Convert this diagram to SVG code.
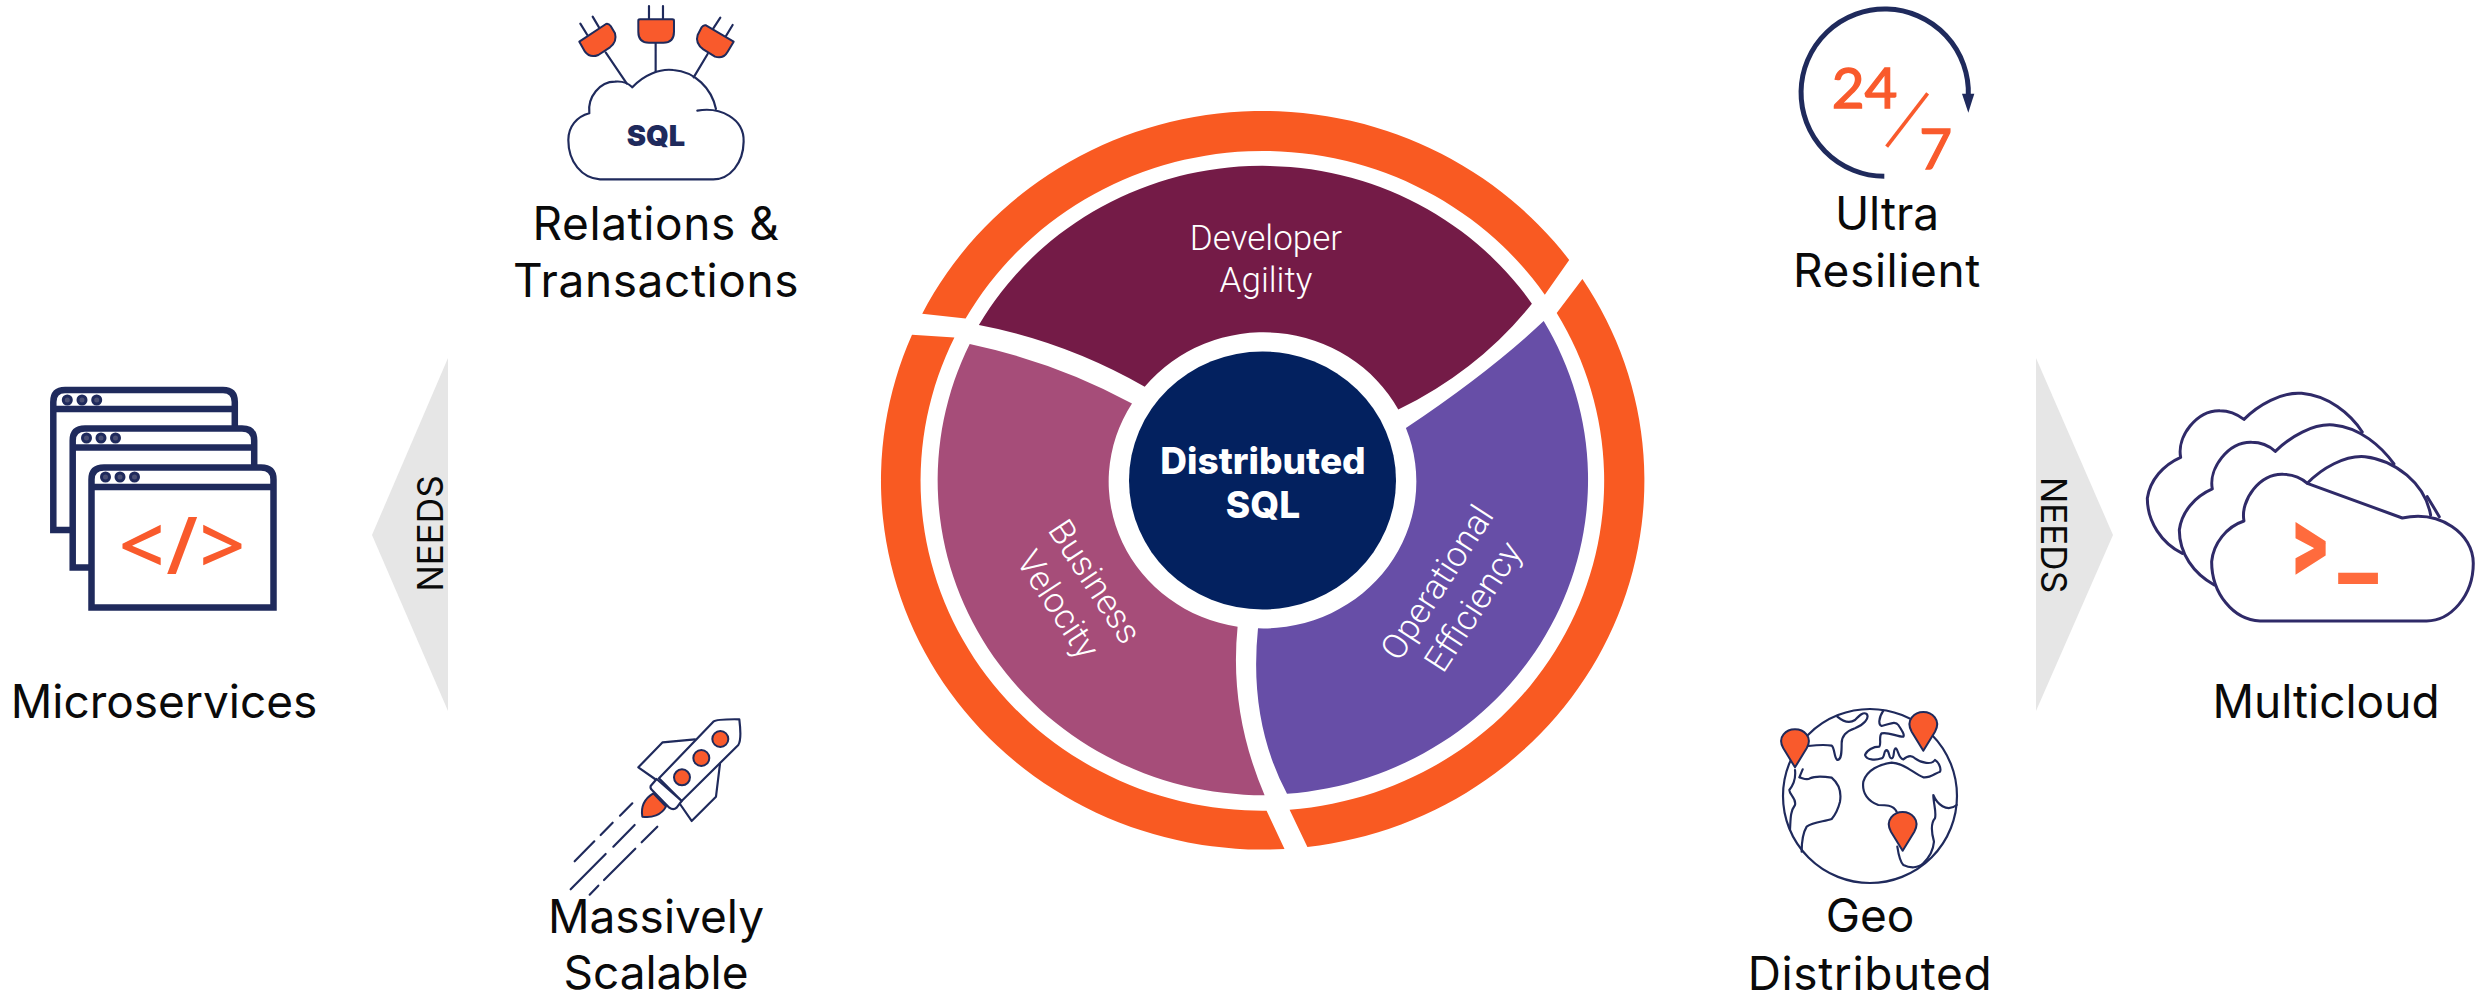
<svg xmlns="http://www.w3.org/2000/svg" width="2484" height="997" viewBox="0 0 2484 997">
<style>
.lbl{font-family:"Inter","Roboto","Liberation Sans",sans-serif;font-size:46px;fill:#0a0a0a;text-anchor:middle}
.wide{letter-spacing:.6px}
.seg{font-family:"Roboto","Liberation Sans",sans-serif;font-weight:300;font-size:35px;fill:#fff;text-anchor:middle}
.hub{font-family:"Inter","Roboto","Liberation Sans",sans-serif;font-weight:800;font-size:37px;fill:#fff;text-anchor:middle}
.ink{fill:none;stroke:#1f2a5c;stroke-width:6.5;stroke-linecap:round;stroke-linejoin:round}
.org{fill:#f95a2c;stroke:#1f2a5c;stroke-width:6;stroke-linejoin:round}
.win{fill:#fff;stroke:#1f2a5c;stroke-width:6.5}
.dot{fill:#4a4f73;stroke:#1f2a5c;stroke-width:3}
.cl{fill:none;stroke:#2f2a68;stroke-width:9;stroke-linecap:round;stroke-linejoin:round}
.need{font-family:"Inter","Roboto","Liberation Sans",sans-serif;font-weight:400;font-size:35px;fill:#0a0a0a;text-anchor:middle}
</style>
<rect width="2484" height="997" fill="#fff"/>
<g id="connectors">
<g id="arrow-left"><polygon points="448,358 372,535 448,711" fill="#e6e6e6"/><text class="need" transform="translate(443,533.5) rotate(-90)">NEEDS</text></g>
<g id="arrow-right"><polygon points="2036,358 2113,535 2036,711" fill="#e6e6e6"/><text class="need" transform="translate(2041,535) rotate(90)">NEEDS</text></g>
</g>
<g id="ring">
<path fill="#f95a22" d="M922.2,313.7A381.5,369 0 0 1 1569.2,260L1544.8,294.7A341.5,330 0 0 0 965.6,318.6Z"/>
<path fill="#f95a22" d="M1582.4,278.9A381.5,369 0 0 1 1307.4,847L1289.6,809.7A341.5,330 0 0 0 1556.7,312.9Z"/>
<path fill="#f95a22" d="M1284.5,848.9A381.5,369 0 0 1 912,334.75L954.4,337.5A341.5,330 0 0 0 1266.6,810.7Z"/>
</g>
<g id="developer-agility">
<path fill="#741b47" d="M978.9,325.1A326,315 0 0 1 1531.9,303.7Q1479,370 1398.3,409.6A153,147 0 0 0 1144.7,386.7Q1065,341.3 978.9,325.1Z"/>
<text class="seg" x="1266" y="250">Developer</text><text class="seg" x="1266" y="292">Agility</text>
</g>
<g id="operational-efficiency">
<path fill="#674ea7" d="M1543.7,321.1A326,315 0 0 1 1287,793.8Q1248.5,721.2 1258,628.3A153,147 0 0 0 1405.9,428Q1489,372.5 1543.7,321.1Z"/>
<text class="seg" transform="translate(1447,589) rotate(-57)">Operational</text><text class="seg" transform="translate(1483,613) rotate(-57)">Efficiency</text>
</g>
<g id="business-velocity">
<path fill="#a64d79" d="M969.7,344A326,315 0 0 0 1264.6,795.2Q1229,712 1237.6,626.8A153,147 0 0 1 1132,403.6Q1057,362.7 969.7,344Z"/>
<text class="seg" transform="translate(1085,588) rotate(57)">Business</text><text class="seg" transform="translate(1048,611) rotate(57)">Velocity</text>
</g>
<g id="distributed-sql">
<ellipse cx="1262.5" cy="480.5" rx="133.5" ry="129" fill="#03215f"/>
<text class="hub" x="1263" y="474">Distributed</text>
<text class="hub" x="1263" y="518">SQL</text>
</g>
<g id="relations-transactions">
<g transform="translate(500,0) scale(.3333)">
<path class="ink" d="M397,262C430,225 480,205 520,210C585,215 635,265 648,327M592,332C660,320 733,355 731,425C730,490 690,538 640,538L300,538C245,535 205,485 205,420C205,380 230,350 268,340C262,290 300,245 345,245C365,243 385,250 397,262"/>
<path class="ink" d="M447,58V18M489,58V18M467,128V215M262,105L241,71M297,82L278,50M317,157L380,250M640,85L661,53M678,108L698,75M623,162L581,232"/>
<path class="org" d="M415,62Q415,58 420,58H517Q522,58 522,62V95Q522,128 490,128H447Q415,128 415,95Z"/>
<path class="org" d="M238,125L318,72Q326,70 332,78L345,100Q352,125 330,142L295,165Q270,175 255,155Z"/>
<path class="org" d="M701,125L618,76Q610,74 605,82L593,105Q585,130 610,148L645,170Q670,178 683,155Z"/>
</g>
<text x="656" y="146" text-anchor="middle" font-family="Inter,Roboto,'Liberation Sans',sans-serif" font-weight="900" font-size="29" fill="#1f2a5c">SQL</text>
<text class="lbl wide" x="656" y="240">Relations &amp;</text><text class="lbl wide" x="656" y="297">Transactions</text>
</g>
<g id="massively-scalable">
<g transform="translate(540,690) scale(.3333)">
<path class="ink" d="M465,148L368,157L295,232L345,267M540,222L528,320L455,393L420,342"/>
<path class="ink" d="M520,95Q530,87 598,88C602,120 605,150 595,165L425,333L357,265Z"/>
<path class="org" d="M340,310L378,350C365,375 335,385 307,380C302,350 315,325 340,310Z"/>
<path class="ink" style="fill:#fff" d="M350,267L332,288Q330,295 336,300L388,353Q400,362 410,353L425,333Z"/>
<circle class="org" cx="541" cy="147" r="24"/><circle class="org" cx="484" cy="204" r="24"/><circle class="org" cx="426" cy="262" r="24"/>
<path class="ink" d="M277,340L240,377M218,398L182,435M163,454L104,514M284,405L220,470M197,492L92,598M352,410L305,457M286,476L192,570M175,587L149,614"/>
</g>
<text class="lbl" x="656" y="933">Massively</text><text class="lbl" x="656" y="989">Scalable</text>
</g>
<g id="geo-distributed">
<g transform="translate(1760,690) scale(.3333)">
<circle class="ink" cx="330" cy="318" r="261"/>
<path class="ink" d="M232,80C250,95 270,100 285,90C300,75 310,65 320,72C330,85 310,105 285,115C255,125 245,140 245,160C245,185 245,210 232,210C222,205 225,175 215,167C195,163 170,165 145,168M128,238L118,262C130,265 140,272 150,265C165,258 195,260 215,263C235,280 245,305 240,335C235,355 225,375 215,387C195,395 160,395 140,410C128,430 125,460 125,485M105,240C108,265 100,285 88,300C88,315 110,325 105,345C90,365 92,390 90,420M370,62C355,85 355,105 365,108C385,105 405,90 415,105C425,120 435,135 430,140C410,140 385,125 365,130C355,140 365,160 358,170C340,170 320,180 315,195C320,210 345,212 365,205C375,205 370,180 380,180C390,185 385,205 395,205C405,205 398,175 408,175C415,180 415,205 430,208C445,195 455,195 465,205C485,220 515,225 525,210C535,215 545,235 540,245C525,250 510,265 490,262C460,250 435,220 395,218C360,222 320,240 310,275C305,310 325,335 355,345C375,345 400,345 410,365M412,470C415,490 420,515 430,525C450,535 475,535 490,520C510,500 520,480 522,455C515,430 512,400 525,385C530,365 520,340 520,315C530,340 560,370 590,345"/>
<path class="org" d="M105,232L70,175C50,140 80,118 105,118C130,118 160,140 140,175Z"/>
<path class="org" d="M490,182L455,125C435,90 465,66 490,66C515,66 545,90 525,125Z"/>
<path class="org" d="M428,482L393,425C373,390 403,366 428,366C453,366 483,390 463,425Z"/>
</g>
<text class="lbl" x="1870" y="932">Geo</text><text class="lbl wide" x="1870" y="990">Distributed</text>
</g>
<g id="ultra-resilient">
<g transform="translate(1781,1) scale(.3333)">
<path fill="none" stroke="#1f2a5c" stroke-width="15" d="M310,526A251,251 0 1 1 562,285"/>
<polygon points="543,278 580,278 562,335" fill="#1f2a5c"/>
<line x1="440" y1="277" x2="317" y2="437" stroke="#f95a2c" stroke-width="11"/>
<text x="152" y="320" font-family="Lato,'Open Sans',sans-serif" font-size="170" fill="#f95a2c" stroke="#f95a2c" stroke-width="4">24</text>
<text x="415" y="505" font-family="Lato,'Open Sans',sans-serif" font-size="170" fill="#f95a2c" stroke="#f95a2c" stroke-width="4">7</text>
</g>
<text class="lbl" x="1887" y="230">Ultra</text><text class="lbl wide" x="1887" y="287">Resilient</text>
</g>
<g id="microservices">
<path class="win" d="M53.3,530V402Q53.3,390 65,390H223Q234.8,390 234.8,402V530Z"/><line x1="53" y1="409" x2="235" y2="409" stroke="#1f2a5c" stroke-width="6.5"/>
<circle class="dot" cx="67.3" cy="400" r="4"/><circle class="dot" cx="82" cy="400" r="4"/><circle class="dot" cx="96.7" cy="400" r="4"/>
<path class="win" d="M72.7,567.5V440.5Q72.7,428.5 85,428.5H242Q254.2,428.5 254.2,440.5V567.5Z"/><line x1="73" y1="447.5" x2="254" y2="447.5" stroke="#1f2a5c" stroke-width="6.5"/>
<circle class="dot" cx="86.5" cy="438" r="4"/><circle class="dot" cx="101" cy="438" r="4"/><circle class="dot" cx="115.5" cy="438" r="4"/>
<path class="win" d="M91.5,607.5V479.5Q91.5,467.5 104,467.5H261Q273.5,467.5 273.5,479.5V607.5Z"/><line x1="91" y1="487" x2="274" y2="487" stroke="#1f2a5c" stroke-width="6.5"/>
<circle class="dot" cx="105.5" cy="477" r="4"/><circle class="dot" cx="120" cy="477" r="4"/><circle class="dot" cx="134.5" cy="477" r="4"/>
<text x="183" y="574" text-anchor="middle" font-family="'Open Sans',Roboto,sans-serif" font-weight="600" font-size="80" fill="#f95a2c" letter-spacing="2">&lt;/&gt;</text>
<text class="lbl" x="164" y="718">Microservices</text>
</g>
<g id="multicloud">
<g transform="translate(2020,340) scale(.3333)">
<path class="cl" d="M487,640C425,610 382,545 382,475C390,420 430,375 482,352C470,290 530,210 600,212C630,212 655,225 672,238C715,195 785,155 845,160C925,167 990,220 1027,276"/>
<path class="cl" d="M583,735C520,700 478,640 478,570C485,515 525,470 577,447C565,385 625,305 695,307C725,307 750,320 766,334C810,290 880,250 940,255C1020,262 1085,320 1122,372M1222,470L1258,530"/>
<path class="cl" d="M862,430C905,385 975,345 1035,350C1125,360 1215,430 1232,525M1147,534C1260,510 1360,580 1360,670C1360,770 1290,843 1220,843L720,843C640,840 575,760 575,665C580,610 620,560 672,543C660,480 720,400 790,403C820,403 845,415 862,430Z"/>
<text transform="translate(815,722) scale(1,1.55)" font-family="Roboto,sans-serif" font-weight="900" font-size="210" fill="#ff6b3d">&gt;</text>
<text x="955" y="700" font-family="Roboto,sans-serif" font-weight="900" font-size="270" fill="#ff6b3d">_</text>
</g>
<text class="lbl" x="2326" y="718">Multicloud</text>
</g>
</svg>
